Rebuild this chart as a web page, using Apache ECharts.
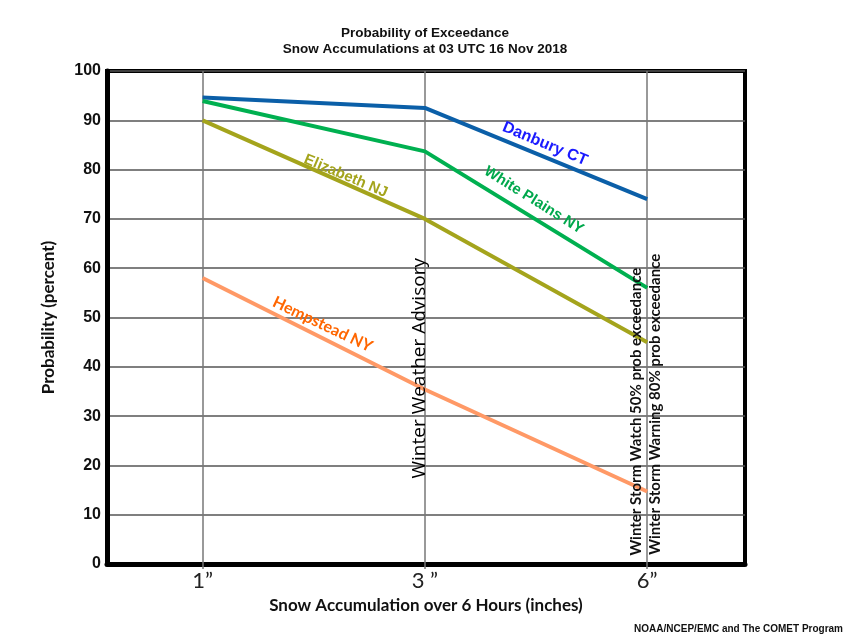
<!DOCTYPE html>
<html>
<head>
<meta charset="utf-8">
<title>Probability of Exceedance</title>
<script src="https://cdn.jsdelivr.net/npm/echarts@6/dist/echarts.min.js"></script>
<style>
  html, body { margin: 0; padding: 0; background: #fff; }
  #chart { width: 850px; height: 640px; }
</style>
</head>
<body>
<div id="chart"></div>
<script>
// snow amount thresholds (x axis, one slot each)
const thresholds = ['1\u201D', '3 \u201D', '6\u201D'];

// probability of exceedance (percent) per site
const danbury = [94.6, 92.5, 74];
const whitePlains = [93.9, 83.7, 56];
const elizabeth = [90, 70, 45];
const hempstead = [58, 35.4, 14.7];

const yTicks = [0, 10, 20, 30, 40, 50, 60, 70, 80, 90, 100];

function pairs(vals) {
    return vals.map((v, i) => [i, v]);
}

function lineSeries(name, vals, color) {
    return {
        name: name,
        type: 'line',
        data: pairs(vals),
        symbol: 'none',
        lineStyle: { color: color, width: 4 },
        z: 5
    };
}

let dom = document.getElementById('chart');
let myChart = echarts.init(dom, null, { renderer: 'canvas' });

let series = [
    lineSeries('Danbury CT', danbury, '#0b5fa8'),
    lineSeries('White Plains NY', whitePlains, '#00b050'),
    lineSeries('Elizabeth NJ', elizabeth, '#a4a41c'),
    lineSeries('Hempstead NY', hempstead, '#ff9966')
];
// vertical guide lines at each threshold
series[0].markLine = {
    silent: true,
    symbol: 'none',
    label: { show: false },
    lineStyle: { color: '#777', width: 1.5, type: 'solid' },
    z: 1,
    data: thresholds.map((t, i) => ({ xAxis: i }))
};

let options = {
    backgroundColor: '#fff',
    animation: false,
    title: {
        text: 'Probability of Exceedance\nSnow Accumulations at 03 UTC 16 Nov 2018',
        left: 'center',
        top: 20,
        textStyle: {
            fontFamily: 'Arial',
            fontSize: 13.5,
            fontWeight: 'bold',
            color: '#111',
            lineHeight: 16,
            align: 'center'
        }
    },
    grid: {
        left: 107, right: 105, top: 71, bottom: 76,
        show: true,
        borderColor: '#000',
        borderWidth: 4
    },
    xAxis: {
        type: 'value',
        min: -0.43,
        max: 2.44,
        name: 'Snow Accumulation over 6 Hours (inches)',
        nameLocation: 'middle',
        nameGap: 30,
        nameTextStyle: { fontFamily: 'Lato', fontSize: 17, fontWeight: 'bold', color: '#111' },
        axisLine: { onZero: false, lineStyle: { color: '#000', width: 5 } },
        axisTick: {
            show: true,
            customValues: [0, 1, 2],
            length: 5,
            lineStyle: { color: '#777', width: 1.5 }
        },
        axisLabel: {
            customValues: [0, 1, 2],
            formatter: v => thresholds[Math.round(v)],
            fontFamily: 'Lato',
            fontSize: 22,
            color: '#222',
            margin: 6
        },
        splitLine: { show: false }
    },
    yAxis: {
        type: 'value',
        min: 0,
        max: 100,
        interval: 10,
        name: 'Probability (percent)',
        nameLocation: 'middle',
        nameGap: 50,
        nameTextStyle: { fontFamily: 'Lato', fontSize: 17, fontWeight: 'bold', color: '#111' },
        axisLine: { show: true, onZero: false, lineStyle: { color: '#000', width: 5 } },
        axisTick: { show: false },
        axisLabel: {
            fontFamily: 'Arial',
            fontSize: 16,
            fontWeight: 'bold',
            color: '#111',
            margin: 6,
            formatter: v => (yTicks.indexOf(v) >= 0 ? String(v) : '')
        },
        splitLine: { show: true, lineStyle: { color: '#555', width: 1.5 } }
    },
    series: series
};

myChart.setOption(options);

// text notes placed in data coordinates, rotation in degrees (counterclockwise)
const notes = [
    { text: 'Danbury CT', at: [1.54, 85.2], rot: -22.6, color: '#1a1aff', font: 'bold 16px Arial' },
    { text: 'White Plains NY', at: [1.49, 73.8], rot: -32, color: '#00a84c', font: 'bold 15px Arial' },
    { text: 'Elizabeth NJ', at: [0.644, 78.7], rot: -23, color: '#a4a41c', font: 'bold 15px Arial' },
    { text: 'Hempstead NY', at: [0.54, 48.6], rot: -25.4, color: '#ff6600', font: 'bold 16px Lato' },
    { text: 'Winter Weather Advisory', at: [0.977, 39.7], rot: 90, color: '#000', font: '500 19px "Open Sans"' },
    { text: 'Winter Storm Watch 50% prob exceedance', at: [1.95, 30.9], rot: 90, color: '#111', font: 'bold 15px Lato' },
    { text: 'Winter Storm Warning 80% prob exceedance', at: [2.036, 32.4], rot: 90, color: '#111', font: 'bold 15px Lato' }
];

let graphic = notes.map(n => {
    let p = myChart.convertToPixel({ gridIndex: 0 }, n.at);
    return {
        type: 'text',
        x: p[0],
        y: p[1],
        rotation: n.rot * Math.PI / 180,
        z: 10,
        style: {
            text: n.text,
            fill: n.color,
            font: n.font,
            align: 'center',
            verticalAlign: 'middle'
        }
    };
});
graphic.push({
    type: 'text',
    right: 7,
    bottom: 6,
    style: {
        text: 'NOAA/NCEP/EMC and The COMET Program',
        fill: '#111',
        font: 'bold 10px Arial'
    }
});

myChart.setOption({ graphic: graphic });
</script>
</body>
</html>
